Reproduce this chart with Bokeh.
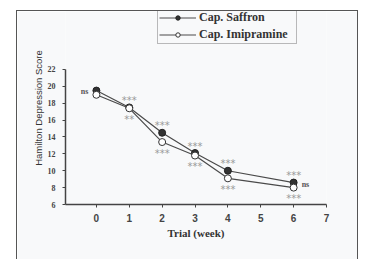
from bokeh.plotting import figure
from bokeh.models import Range1d, FixedTicker, Legend, LegendItem, Title
from bokeh.core.properties import value
from bokeh.embed import file_html
from bokeh.resources import INLINE

weeks = [0, 1, 2, 3, 4, 6]
saffron = [19.5, 17.5, 14.5, 12.1, 10.0, 8.6]
imipramine = [19.0, 17.4, 13.4, 11.8, 9.1, 8.0]
sig_above_weeks = [1, 2, 3, 4, 6]
sig_above_vals = [17.5, 14.5, 12.1, 10.0, 8.6]
sig_above_text = ["***", "***", "***", "***", "***"]
sig_below_weeks = [1, 2, 3, 4, 6]
sig_below_vals = [17.4, 13.4, 11.8, 9.1, 8.0]
sig_below_text = ["**", "***", "***", "***", "***"]
x_ticks = [0, 1, 2, 3, 4, 5, 6, 7]
y_ticks = [6, 8, 10, 12, 14, 16, 18, 20, 22]

BG = "#f8f9fa"
INK = "#333333"
LINE = "#4a4a4a"

p = figure(width=342, height=249, output_backend="svg", toolbar_location=None,
           x_range=Range1d(-0.94, 7), y_range=Range1d(6, 28.87),
           min_border_left=48, min_border_right=33, min_border_top=0,
           min_border_bottom=56)
p.margin = (10, 0, 0, 16)
p.styles = {"border-top": "1.5px solid #555555",
            "border-left": "1.5px solid #555555",
            "border-right": "1.5px solid #555555"}
p.background_fill_color = BG
p.border_fill_color = BG
p.outline_line_color = None
p.xgrid.visible = False
p.ygrid.visible = False

r1l = p.line(weeks, saffron, line_color=LINE, line_width=1.2)
r1c = p.scatter(weeks, saffron, size=7, fill_color="#333333", line_color="#222222")
r2l = p.line(weeks, imipramine, line_color=LINE, line_width=1.2)
r2c = p.scatter(weeks, imipramine, size=7, fill_color="white", line_color="#333333")

star_font = value("DejaVu Sans")
p.text(sig_above_weeks, sig_above_vals, text=sig_above_text, text_font=star_font,
       text_font_size="10px", text_color="#999999", text_align="center",
       text_baseline="middle", y_offset=-7)
p.text(sig_below_weeks, sig_below_vals, text=sig_below_text, text_font=star_font,
       text_font_size="10px", text_color="#999999", text_align="center",
       text_baseline="middle", y_offset=11)
p.text([weeks[0]], [saffron[0]], text=["ns"], text_font=value("Liberation Serif"),
       text_font_style="bold", text_font_size="8px", text_color="#555555",
       text_align="right", text_baseline="middle", x_offset=-8, y_offset=1)
p.text([weeks[-1]], [imipramine[-1]], text=["ns"], text_font=value("Liberation Serif"),
       text_font_style="bold", text_font_size="8px", text_color="#555555",
       text_align="left", text_baseline="middle", x_offset=8, y_offset=-3)

p.xaxis.ticker = FixedTicker(ticks=x_ticks)
p.yaxis.ticker = FixedTicker(ticks=y_ticks)
p.yaxis.bounds = (6, 22)
p.xaxis.minor_tick_line_color = None
p.yaxis.minor_tick_line_color = None
for ax in (p.xaxis[0], p.yaxis[0]):
    ax.axis_line_color = "#444444"
    ax.axis_line_width = 1.5
    ax.major_tick_line_color = "#444444"
    ax.major_tick_in = 0
    ax.major_tick_out = 3
    ax.major_label_text_color = "#444444"
    ax.major_label_text_font_style = "bold"
    ax.axis_label_text_color = INK

p.xaxis.major_label_text_font = "Liberation Sans"
p.xaxis.major_label_text_font_size = "10px"
p.xaxis.major_label_standoff = 6
p.xaxis.axis_label = "Trial (week)"
p.xaxis.axis_label_text_font = "Liberation Serif"
p.xaxis.axis_label_text_font_style = "bold"
p.xaxis.axis_label_text_font_size = "11px"
p.xaxis.axis_label_standoff = 2

p.yaxis.major_label_text_font = "Liberation Serif"
p.yaxis.major_label_text_font_size = "8px"
p.yaxis.major_label_standoff = 7

ylab = Title(text="Hamilton Depression Score", align="center", offset=-25,
             text_font="Liberation Sans", text_font_style="normal",
             text_font_size="9.5px", text_color=INK, standoff=2)
p.add_layout(ylab, "left")

legend = Legend(items=[LegendItem(label="Cap. Saffron", renderers=[r1l, r1c]),
                       LegendItem(label="Cap. Imipramine", renderers=[r2l, r2c])],
                location=(92, 160), orientation="vertical")
legend.label_text_font = "Liberation Serif"
legend.label_text_font_style = "bold"
legend.label_text_font_size = "12px"
legend.label_text_color = INK
legend.glyph_width = 37
legend.glyph_height = 11
legend.label_standoff = 3
legend.label_height = 11
legend.label_width = 96
legend.spacing = 2
legend.padding = 1
legend.margin = 0
legend.background_fill_color = BG
legend.background_fill_alpha = 1
legend.border_line_color = "#777777"
legend.border_line_width = 1
p.add_layout(legend)

open("out.html", "w").write(file_html(p, INLINE))
